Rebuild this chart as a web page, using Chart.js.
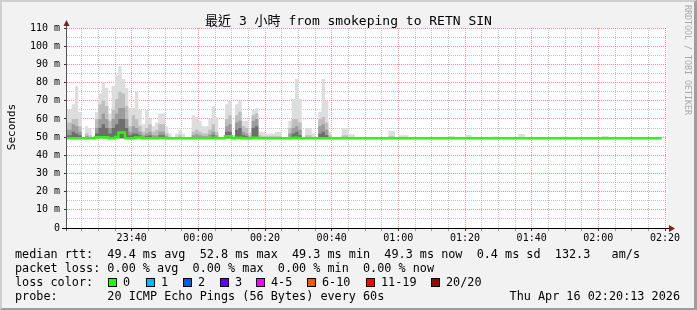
<!DOCTYPE html>
<html>
<head>
<meta charset="utf-8">
<script src="https://cdn.jsdelivr.net/npm/chart.js@4.4.1/dist/chart.umd.min.js"></script>
<style>
body { margin: 0; background: #f2f2f2; }
#wrap { position: relative; width: 697px; height: 310px; overflow: hidden; background: #f2f2f2;
  font-family: "DejaVu Sans Mono", "Noto Sans CJK TC", monospace; color: #000; }
#wrap canvas { position: absolute; left: 0; top: 0; }
#frame { position: absolute; left: 0; top: 0; width: 697px; height: 310px; box-sizing: border-box;
  border-top: 2px solid #cfcfcf; border-left: 2px solid #cfcfcf; border-bottom: 2px solid #9e9e9e; border-right: 3px solid #9e9e9e; }
.t { position: absolute; white-space: pre; font-size: 11.8px; line-height: 14px; }
.box { position: absolute; top: 278px; width: 9px; height: 9px; box-sizing: border-box; border: 1px solid #000; }
.rot { position: absolute; white-space: pre; }
</style>
</head>
<body>
<div id="wrap">
  <canvas id="smoke" width="697" height="310"></canvas>
  <div id="frame"></div>
  <div class="t" style="left:0;width:697px;top:13px;text-align:center;font-size:13px;line-height:16px">最近 3 小時 from smokeping to RETN SIN</div>
  <div class="rot" style="left:11px;top:127px;font-size:11px;transform:translate(-50%,-50%) rotate(-90deg)">Seconds</div>
  <div class="rot" style="left:688px;top:60px;font-size:8.3px;color:#a8a8a8;transform:translate(-50%,-50%) rotate(90deg)">RRDTOOL / TOBI OETIKER</div>
  <div class="t" style="left:15px;top:247px">median rtt:  49.4 ms avg  52.8 ms max  49.3 ms min  49.3 ms now  0.4 ms sd  132.3   am/s</div>
  <div class="t" style="left:15px;top:261px">packet loss: 0.00 % avg  0.00 % max  0.00 % min  0.00 % now</div>
  <div class="t" style="left:15px;top:275px">loss color:</div>
  <div id="losses"></div>
  <div class="t" style="left:15px;top:289px">probe:       20 ICMP Echo Pings (56 Bytes) every 60s</div>
  <div class="t" style="right:17px;top:289px">Thu Apr 16 02:20:13 2026</div>
</div>
<script>
// minutes since 23:20, one value per minute
var median = [
  49.3,49.3,49.3,49.3,49.3,49.3,49.3,49.3,49.3,49.9,
  49.9,49.9,49.9,49.3,49.3,50,52.5,52.5,49.3,49.3,
  49.3,49.8,49.8,49.3,49.3,49.3,49.3,49.3,49.5,49.5,
  49.3,49.3,49.3,49.3,49.3,49.3,49.3,49.3,49.3,49.3,
  49.3,49.3,49.3,49.3,49.6,49.3,49.3,49.3,50.5,50.5,
  49.3,49.6,49.6,49.3,49.3,49.3,49.6,49.6,49.3,49.3,
  49.3,49.3,49.3,49.3,49.3,49.3,49.3,49.3,49.5,49.6,
  49.3,49.3,49.3,49.3,49.3,49.3,49.3,49.3,49.3,49.3,
  49.4,49.4,49.4,49.4,49.4,49.4,49.4,49.4,49.4,49.4,
  49.4,49.4,49.4,49.4,49.4,49.4,49.4,49.4,49.4,49.4,
  49.4,49.4,49.4,49.4,49.4,49.4,49.4,49.4,49.4,49.4,
  49.4,49.4,49.4,49.4,49.4,49.4,49.4,49.4,49.4,49.4,
  49.4,49.4,49.4,49.4,49.4,49.4,49.4,49.4,49.4,49.4,
  49.4,49.4,49.4,49.4,49.4,49.4,49.4,49.4,49.4,49.4,
  49.4,49.4,49.4,49.4,49.4,49.4,49.4,49.4,49.4,49.4,
  49.4,49.4,49.4,49.4,49.4,49.4,49.4,49.4,49.4,49.4,
  49.4,49.4,49.4,49.4,49.4,49.4,49.4,49.4,49.4,49.4,
  49.4,49.4,49.4,49.4,49.4,49.4,49.4,49.4,49.3
];
// outer smoke (highest ping)
var smokeMax = [
  65,65,68,78,64,50,56,55,50,64,
  74,80,77,63,78,84,89,82,77,66,
  66,75,65,57,65,60,56,58,63,63,
  56,52,50,52,54,52,50,50,62,61,
  59,56,56,60,67,61,50,50,68,70,
  51,68,70,59,59,53,65,66,53,53,
  52,52,52,53,53,50,50,59,71,82,
  71,50,55,55,52,50,64,82,70,53,
  50,50,50,55,55,51.5,51.5,49.6,49.5,49.5,
  49.5,49.5,49.5,49.5,49.5,49.5,49.6,53.5,53.5,49.6,
  51,51,51,49.5,49.5,49.5,49.5,49.5,49.5,49.5,
  49.5,49.5,49.5,49.5,49.5,50.6,50.6,49.5,49.5,49.5,
  51.2,51.2,49.5,49.5,49.5,49.5,49.5,49.5,50.3,50.3,
  49.5,49.5,49.5,49.5,49.5,49.5,51.7,51.7,49.5,49.5,
  49.5,49.5,49.5,49.5,49.5,49.5,49.5,49.5,49.5,50.3,
  50.3,49.5,49.5,49.5,49.5,49.5,49.5,49.5,49.5,49.5,
  49.5,50.6,50.6,49.5,49.5,49.5,49.5,49.5,49.5,49.5,
  49.5,49.5,49.5,49.5,49.5,49.5,49.5,49.5,49.5
];
var smokeHi = [
  58,58,60,60,56,49.3,52,51,49.3,60,
  68,70,67,59,65,71,75,74,67,56,
  62,60,56,53,55,57,53,54,57,57,
  52,50,49.3,50,51,50,49.3,49.3,53,54,
  53,52,52,54,57,53,49.3,49.3,60,62,
  50,62,64,56,55,51,62,63,51,50.5,
  50.5,50.5,50.5,50.5,50.5,49.3,49.3,55,60,60,
  58,49.3,51,51,50,49.3,60,61,58,51,
  49.3,49.3,49.3,51,51,50,50,49.3,49.3,49.3,
  49.3,49.3,49.3,49.3,49.3,49.3,49.3,50.5,50.5,49.3,
  49.3,49.3,49.3,49.3,49.3,49.3,49.3,49.3,49.3,49.3,
  49.3,49.3,49.3,49.3,49.3,49.3,49.3,49.3,49.3,49.3,
  49.3,49.3,49.3,49.3,49.3,49.3,49.3,49.3,49.3,49.3,
  49.3,49.3,49.3,49.3,49.3,49.3,49.3,49.3,49.3,49.3,
  49.3,49.3,49.3,49.3,49.3,49.3,49.3,49.3,49.3,49.3,
  49.3,49.3,49.3,49.3,49.3,49.3,49.3,49.3,49.3,49.3,
  49.3,49.3,49.3,49.3,49.3,49.3,49.3,49.3,49.3,49.3,
  49.3,49.3,49.3,49.3,49.3,49.3,49.3,49.3,49.3
];
var smokeMid = [
  54,54,57,56,53,49.3,50.5,50,49.3,55,
  60,63,60,55,60,63,66,66,60,53,
  56,55,53,51,52,53,51,51,53,53,
  50.5,49.8,49.3,49.8,50,49.8,49.3,49.3,51,51.5,
  51,50.5,50.5,51.5,53,51,49.3,49.3,56,57,
  49.8,58,59,53,52,50,59,60,49.8,49.8,
  49.8,49.8,49.8,49.8,49.8,49.3,49.3,52,55,56,
  54,49.3,50,50,49.6,49.3,56,57,54,50,
  49.3,49.3,49.3,50,50,49.3,49.3,49.3,49.3,49.3,
  49.3,49.3,49.3,49.3,49.3,49.3,49.3,49.3,49.3,49.3,
  49.3,49.3,49.3,49.3,49.3,49.3,49.3,49.3,49.3,49.3,
  49.3,49.3,49.3,49.3,49.3,49.3,49.3,49.3,49.3,49.3,
  49.3,49.3,49.3,49.3,49.3,49.3,49.3,49.3,49.3,49.3,
  49.3,49.3,49.3,49.3,49.3,49.3,49.3,49.3,49.3,49.3,
  49.3,49.3,49.3,49.3,49.3,49.3,49.3,49.3,49.3,49.3,
  49.3,49.3,49.3,49.3,49.3,49.3,49.3,49.3,49.3,49.3,
  49.3,49.3,49.3,49.3,49.3,49.3,49.3,49.3,49.3,49.3,
  49.3,49.3,49.3,49.3,49.3,49.3,49.3,49.3,49.3
];
var smokeLow = [
  51,51,53,52,51,49.3,49.6,49.5,49.3,52,
  55,57,55,52,55,57,60,60,55,51,
  52,52,51,50,50.5,51,50,50,51,51,
  49.8,49.3,49.3,49.3,49.3,49.3,49.3,49.3,50,50,
  50,49.6,49.6,50,51,50,49.3,49.3,53,53,
  49.5,54,55,51,50.5,49.5,55,56,49.3,49.3,
  49.3,49.3,49.3,49.3,49.3,49.3,49.3,50,52,53,
  51,49.3,49.3,49.3,49.3,49.3,52,53,51,49.3,
  49.3,49.3,49.3,49.3,49.3,49.3,49.3,49.3,49.3,49.3,
  49.3,49.3,49.3,49.3,49.3,49.3,49.3,49.3,49.3,49.3,
  49.3,49.3,49.3,49.3,49.3,49.3,49.3,49.3,49.3,49.3,
  49.3,49.3,49.3,49.3,49.3,49.3,49.3,49.3,49.3,49.3,
  49.3,49.3,49.3,49.3,49.3,49.3,49.3,49.3,49.3,49.3,
  49.3,49.3,49.3,49.3,49.3,49.3,49.3,49.3,49.3,49.3,
  49.3,49.3,49.3,49.3,49.3,49.3,49.3,49.3,49.3,49.3,
  49.3,49.3,49.3,49.3,49.3,49.3,49.3,49.3,49.3,49.3,
  49.3,49.3,49.3,49.3,49.3,49.3,49.3,49.3,49.3,49.3,
  49.3,49.3,49.3,49.3,49.3,49.3,49.3,49.3,49.3
];
var smokeBase = 49.3;
var timeLabels = ['23:40','00:00','00:20','00:40','01:00','01:20','01:40','02:00','02:20'];
var lossLabels = ['0','1','2','3','4-5','6-10','11-19','20/20'];
var lossColors = ['#26ff00','#00b8ff','#0059ff','#5e00ff','#ff00ff','#ff5500','#ff0000','#a10000'];
var lossBoxX = [108,146,183,220,256,307,366,431];

var MAJOR = 'rgba(222,79,79,0.6)';
var MINOR = 'rgba(143,143,143,0.55)';
var NONE = 'rgba(0,0,0,0)';

var tickMinutes = [];
for (var m = 5; m <= 180; m += 5) tickMinutes.push(m);

function isMajor(c, step) {
    return !!c.tick && Math.round(c.tick.value) % step === 0;
}

// legend boxes
var lhtml = '';
lossLabels.forEach(function(l, i){
    lhtml += '<div class="box" style="left:' + lossBoxX[i] + 'px;background:' + lossColors[i] + '"></div>';
    lhtml += '<div class="t" style="left:' + (lossBoxX[i] + 15) + 'px;top:275px">' + l + '</div>';
});
document.getElementById('losses').innerHTML = lhtml;

function steps(arr) {
    var pts = arr.map(function(v, i){ return {x: i, y: v}; });
    pts.push({x: arr.length, y: arr[arr.length - 1]});
    return pts;
}
function band(arr, color) {
    return { data: steps(arr), stepped: true, borderWidth: 0, borderColor: NONE,
             backgroundColor: color, pointRadius: 0, fill: {value: smokeBase} };
}

var axes = {
    id: 'axes',
    beforeDraw: function(chart) {
        var a = chart.chartArea, c = chart.ctx;
        c.save();
        c.fillStyle = '#ffffff';
        c.fillRect(a.left, a.top, a.right - a.left, a.bottom - a.top);
        c.restore();
    },
    afterDraw: function(chart) {
        var a = chart.chartArea, c = chart.ctx;
        c.save();
        c.lineWidth = 1;
        c.strokeStyle = '#555';
        c.beginPath(); c.moveTo(a.left - 0.5, a.bottom + 3); c.lineTo(a.left - 0.5, a.top - 6); c.stroke();
        c.strokeStyle = '#000';
        c.beginPath(); c.moveTo(a.left - 5, a.bottom + 0.5); c.lineTo(a.right + 3, a.bottom + 0.5); c.stroke();
        c.fillStyle = '#801f1f';
        c.beginPath(); c.moveTo(a.left - 3.5, a.top - 2); c.lineTo(a.left + 2.5, a.top - 2); c.lineTo(a.left - 0.5, a.top - 8); c.closePath(); c.fill();
        c.beginPath(); c.moveTo(a.right + 2, a.bottom - 3); c.lineTo(a.right + 2, a.bottom + 4); c.lineTo(a.right + 8, a.bottom + 0.5); c.closePath(); c.fill();
        c.restore();
    }
};

Chart.defaults.font.family = '"DejaVu Sans Mono", monospace';
Chart.defaults.font.size = 10;
Chart.defaults.color = '#000';

var ctx = document.getElementById('smoke').getContext('2d');
var chart = new Chart(ctx, {
    type: 'line',
    data: {
        datasets: [
            { data: steps(median), stepped: true, borderColor: '#26ff00', borderWidth: 2.5, pointRadius: 0, fill: false },
            band(smokeLow, '#6e6e6e'),
            band(smokeMid, '#9c9c9c'),
            band(smokeHi, '#bebebe'),
            band(smokeMax, '#dddddd')
        ]
    },
    options: {
        responsive: false,
        animation: false,
        events: [],
        layout: { padding: { top: 28, right: 30, bottom: 0, left: 0 } },
        plugins: { legend: { display: false }, tooltip: { enabled: false } },
        scales: {
            x: {
                type: 'linear', min: 0.6, max: 180.6, z: 1,
                afterBuildTicks: function(s){ s.ticks = tickMinutes.map(function(v){ return {value: v}; }); },
                afterFit: function(s){ s.height = 82; },
                ticks: {
                    autoSkip: false, maxRotation: 0, padding: 1, stepSize: 5,
                    callback: function(v){ return Math.round(v) % 20 === 0 ? timeLabels[Math.round(v) / 20 - 1] : ''; }
                },
                grid: {
                    color: function(c){ return isMajor(c, 20) ? MAJOR : MINOR; },
                    tickColor: function(c){ return isMajor(c, 20) ? '#333' : '#999'; },
                    tickLength: 3
                },
                border: { display: false, dash: [1, 1] }
            },
            y: {
                min: 0, max: 110, z: 1,
                afterFit: function(s){ s.width = 67; },
                ticks: {
                    stepSize: 5, autoSkip: false, padding: 4,
                    callback: function(v){ return v % 10 === 0 ? (v === 0 ? '0' : v + ' m') : ''; }
                },
                grid: {
                    color: function(c){ if (!c.tick || c.tick.value === 0) return NONE; return isMajor(c, 10) ? MAJOR : MINOR; },
                    tickColor: function(c){ return isMajor(c, 10) ? '#333' : NONE; },
                    tickLength: 3
                },
                border: { display: false, dash: [1, 1] }
            }
        }
    },
    plugins: [axes]
});
</script>
</body>
</html>
